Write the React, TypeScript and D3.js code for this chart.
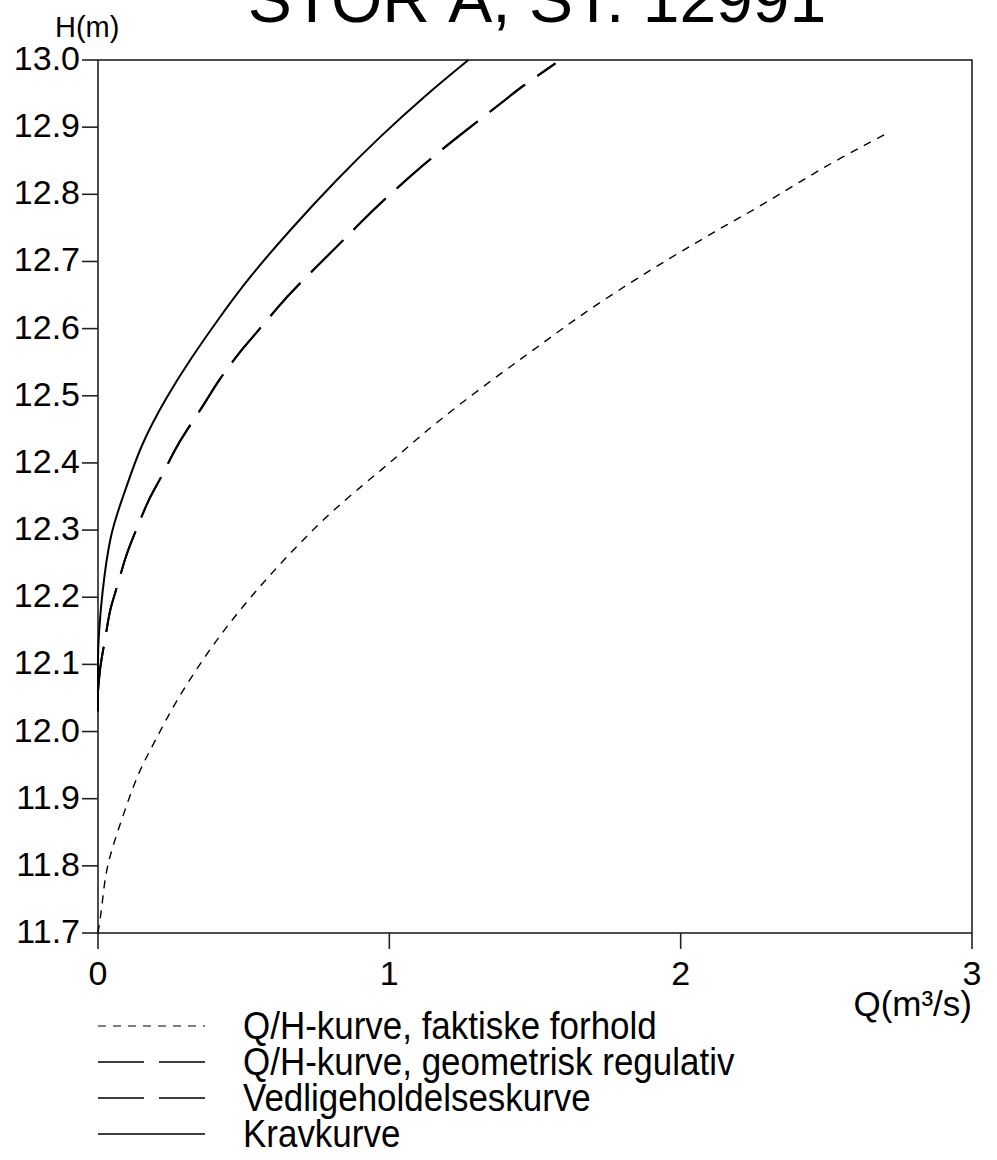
import React from 'react';
import { scaleLinear, line, curveBasis } from 'd3';

// Q/H-kurve, faktiske forhold
const faktiskQ = [0, 0.013, 0.024, 0.047, 0.093, 0.138, 0.196, 0.264, 0.356, 0.442, 0.556, 0.671, 0.785, 0.911, 1.002, 1.105, 1.231, 1.391, 1.529, 1.666, 1.826, 1.963, 2.089, 2.147, 2.28, 2.41, 2.547, 2.705];
const faktiskH = [11.7, 11.736, 11.785, 11.825, 11.884, 11.939, 11.986, 12.043, 12.105, 12.157, 12.217, 12.271, 12.321, 12.368, 12.4, 12.44, 12.484, 12.536, 12.579, 12.623, 12.668, 12.705, 12.737, 12.752, 12.784, 12.819, 12.854, 12.89];

// Q/H-kurve, geometrisk regulativ
const geomQ = [0, 0.007, 0.018, 0.03, 0.041, 0.058, 0.098, 0.121, 0.173, 0.207, 0.27, 0.299, 0.379, 0.407, 0.493, 0.533, 0.625, 0.671, 0.808, 0.911, 0.962, 1.12, 1.271, 1.397, 1.437, 1.57];
const geomH = [12.06, 12.096, 12.122, 12.152, 12.182, 12.204, 12.266, 12.289, 12.346, 12.37, 12.425, 12.445, 12.497, 12.519, 12.569, 12.588, 12.636, 12.658, 12.717, 12.762, 12.784, 12.846, 12.898, 12.94, 12.955, 12.995];

// Vedligeholdelseskurve (ligger oven i geometrisk regulativ)
const vedligeQ = [0, 0.007, 0.018, 0.03, 0.041, 0.058, 0.098, 0.121, 0.173, 0.207, 0.27, 0.299, 0.379, 0.407, 0.493, 0.533, 0.625, 0.671, 0.808, 0.911, 0.962, 1.12, 1.271, 1.397, 1.437, 1.57];
const vedligeH = [12.06, 12.096, 12.122, 12.152, 12.182, 12.204, 12.266, 12.289, 12.346, 12.37, 12.425, 12.445, 12.497, 12.519, 12.569, 12.588, 12.636, 12.658, 12.717, 12.762, 12.784, 12.846, 12.898, 12.94, 12.955, 12.995];

// Kravkurve
const kravQ = [0, 0, 0, 0.004, 0.013, 0.041, 0.087, 0.144, 0.236, 0.316, 0.419, 0.522, 0.659, 0.819, 0.968, 1.117, 1.271];
const kravH = [12.03, 12.09, 12.12, 12.152, 12.202, 12.296, 12.35, 12.425, 12.499, 12.554, 12.618, 12.678, 12.747, 12.822, 12.886, 12.945, 13.0];

const hTicks = [11.7, 11.8, 11.9, 12.0, 12.1, 12.2, 12.3, 12.4, 12.5, 12.6, 12.7, 12.8, 12.9, 13.0];
const qTicks = [0, 1, 2, 3];

const legendLabels = [
	'Q/H-kurve, faktiske forhold',
	'Q/H-kurve, geometrisk regulativ',
	'Vedligeholdelseskurve',
	'Kravkurve',
];

const FONT = '"Liberation Sans", Arial, sans-serif';

export default function App() {
	const left = 98;
	const right = 972;
	const top = 60;
	const bottom = 933;

	const x = scaleLinear().domain([0, 3]).range([left, right]);
	const y = scaleLinear().domain([11.7, 13.0]).range([bottom, top]);

	const toPts = (qs, hs) => qs.map((q, i) => [q, hs[i]]);
	const path = line()
		.x((d) => x(d[0]))
		.y((d) => y(d[1]))
		.curve(curveBasis);

	const series = [
		{ d: path(toPts(faktiskQ, faktiskH)), dash: '8,7', w: 1.4 },
		{ d: path(toPts(geomQ, geomH)), dash: '45,15', w: 2 },
		{ d: path(toPts(vedligeQ, vedligeH)), dash: '45,15', w: 2 },
		{ d: path(toPts(kravQ, kravH)), dash: null, w: 2 },
	];

	const legendY0 = 1026;
	const legendStep = 36;

	return (
		<svg
			width={997}
			height={1160}
			style={{ position: 'absolute', left: 0, top: 0, background: '#fff' }}
			fontFamily={FONT}>
			{/* titel - toppen er klippet af */}
			<text x={537} y={22} fontSize={66} textAnchor="middle" fill="#000">
				STOR Å, ST. 12991
			</text>

			<text x={55} y={37} fontSize={29} fill="#000">
				H(m)
			</text>

			{/* ramme */}
			<rect
				x={left}
				y={top}
				width={right - left}
				height={bottom - top}
				fill="none"
				stroke="#222"
				strokeWidth={1.6}
			/>

			{hTicks.map((h) => (
				<g key={h}>
					<line x1={left - 16} x2={left} y1={y(h)} y2={y(h)} stroke="#222" strokeWidth={1.6} />
					<text
						x={80}
						y={y(h) - 2}
						fontSize={34}
						textAnchor="end"
						dominantBaseline="central"
						fill="#000">
						{h.toFixed(1)}
					</text>
				</g>
			))}

			{qTicks.map((q) => (
				<g key={q}>
					<line x1={x(q)} x2={x(q)} y1={bottom} y2={bottom + 16} stroke="#222" strokeWidth={1.6} />
					<text x={x(q)} y={985} fontSize={34} textAnchor="middle" fill="#000">
						{q}
					</text>
				</g>
			))}

			<text x={972} y={1016} fontSize={35} textAnchor="end" fill="#000">
				Q(m³/s)
			</text>

			{series.map((s, i) => (
				<path
					key={i}
					d={s.d}
					fill="none"
					stroke="#000"
					strokeWidth={s.w}
					strokeDasharray={s.dash || undefined}
				/>
			))}

			{/* signatur */}
			{legendLabels.map((lab, i) => {
				const ly = legendY0 + i * legendStep;
				const s = series[i];
				return (
					<g key={lab}>
						<line
							x1={98}
							x2={205}
							y1={ly}
							y2={ly}
							stroke="#000"
							strokeWidth={i === 0 ? 1.2 : 1.5}
							strokeDasharray={s.dash ? (i === 0 ? '8,7' : '46,15') : undefined}
						/>
						<text
							transform={`translate(243, ${ly}) scale(0.92, 1)`}
							fontSize={38}
							dominantBaseline="central"
							fill="#000">
							{lab}
						</text>
					</g>
				);
			})}
		</svg>
	);
}
